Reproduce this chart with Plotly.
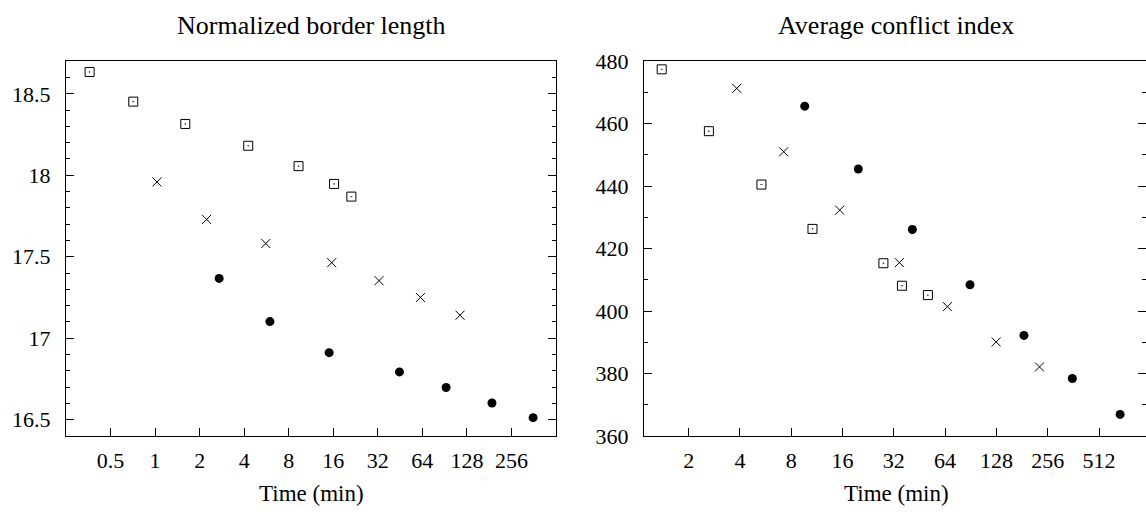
import math
import plotly.graph_objects as go

W, H = 1146, 521
FONT = "Liberation Serif"

# ---------------- Data ----------------
# Left panel: Normalized border length
nb_sq_x = [0.361, 0.712, 1.60, 4.26, 9.32, 16.2, 21.2]
nb_sq_y = [18.634, 18.452, 18.315, 18.181, 18.056, 17.947, 17.869]
nb_x_x = [1.03, 2.23, 5.60, 15.6, 32.6, 62.1, 115]
nb_x_y = [17.959, 17.729, 17.581, 17.463, 17.353, 17.250, 17.141]
nb_ci_x = [2.71, 5.97, 15.0, 44.8, 92.6, 189, 358.6]
nb_ci_y = [17.367, 17.102, 16.911, 16.793, 16.697, 16.602, 16.512]

# Right panel: Average conflict index
ac_sq_x = [1.39, 2.63, 5.35, 10.66, 27.8, 35.7, 50.7]
ac_sq_y = [477.4, 457.6, 440.5, 426.3, 415.3, 408.1, 405.1]
ac_x_x = [3.83, 7.22, 15.4, 34.5, 66.0, 127.6, 229]
ac_x_y = [471.3, 451.0, 432.3, 415.5, 401.4, 390.1, 382.1]
ac_ci_x = [9.6, 19.8, 41.1, 89.6, 185.7, 357, 680.6]
ac_ci_y = [465.6, 445.5, 426.1, 408.4, 392.2, 378.4, 366.9]

left_xticks = [0.5, 1, 2, 4, 8, 16, 32, 64, 128, 256]
left_xticktext = ["0.5", "1", "2", "4", "8", "16", "32", "64", "128", "256"]
right_xticks = [2, 4, 8, 16, 32, 64, 128, 256, 512]
right_xticktext = ["2", "4", "8", "16", "32", "64", "128", "256", "512"]

titles = ["Normalized border length", "Average conflict index"]
xlabel = "Time (min)"

# ---------------- Figure ----------------
fig = go.Figure()

sq = dict(symbol="square-open-dot", size=9, color="black", line=dict(width=1, color="black"))
xx = dict(symbol="x-thin-open", size=9, color="black", line=dict(width=1, color="black"))
ci = dict(symbol="circle", size=9, color="black", line=dict(width=0))

for (x, y, m) in [(nb_sq_x, nb_sq_y, sq), (nb_x_x, nb_x_y, xx), (nb_ci_x, nb_ci_y, ci)]:
    fig.add_trace(go.Scatter(x=x, y=y, mode="markers", marker=m, xaxis="x", yaxis="y",
                             showlegend=False, cliponaxis=False))
for (x, y, m) in [(ac_sq_x, ac_sq_y, sq), (ac_x_x, ac_x_y, xx), (ac_ci_x, ac_ci_y, ci)]:
    fig.add_trace(go.Scatter(x=x, y=y, mode="markers", marker=m, xaxis="x2", yaxis="y2",
                             showlegend=False, cliponaxis=False))
# invisible helper trace so the right-hand tick axis of the second panel is drawn
fig.add_trace(go.Scatter(x=ac_ci_x[:1], y=ac_ci_y[:1], mode="markers",
                         marker=dict(opacity=0), xaxis="x2", yaxis="y3",
                         showlegend=False, hoverinfo="skip"))

tickfont = dict(family=FONT, size=22, color="black")
ydom = [1 - 445.3 / H, 1 - 51.7 / H]
LW = 1.2

common_x = dict(type="log", ticks="inside", ticklen=8, tickwidth=1, tickcolor="black",
                showline=True, mirror=True, linecolor="black", linewidth=LW,
                showgrid=False, zeroline=False, tickfont=tickfont, ticklabelstandoff=5)
common_y = dict(ticks="inside", ticklen=8, tickwidth=1, tickcolor="black",
                showline=True, linecolor="black", linewidth=LW,
                showgrid=False, zeroline=False, tickfont=tickfont, ticklabelstandoff=10)

fig.update_layout(
    width=W, height=H, autosize=False,
    margin=dict(l=0, r=0, t=0, b=0),
    paper_bgcolor="white", plot_bgcolor="white",
    xaxis=dict(common_x, domain=[66 / W, 556 / W],
               range=[math.log10(0.25), math.log10(512)],
               tickvals=left_xticks, ticktext=left_xticktext, anchor="y"),
    yaxis=dict(common_y, domain=ydom, range=[16.4, 18.7], tick0=16.5, dtick=0.5,
               mirror="ticks",
               minor=dict(ticks="inside", ticklen=4, tickcolor="black", tickwidth=1,
                          tick0=16.5, dtick=0.1, showgrid=False),
               anchor="x"),
    xaxis2=dict(common_x, domain=[644 / W, 1.0],
                range=[0.13 * math.log10(2), 9.916 * math.log10(2)],
                tickvals=right_xticks, ticktext=right_xticktext, anchor="y2"),
    yaxis2=dict(common_y, domain=ydom, range=[360, 480], tick0=360, dtick=20,
                mirror=False,
                minor=dict(ticks="inside", ticklen=4, tickcolor="black", tickwidth=1,
                           tick0=360, dtick=10, showgrid=False),
                anchor="x2"),
    yaxis3=dict(overlaying="y2", side="right", anchor="x2", range=[360, 480],
                tick0=360, dtick=20, ticks="inside", ticklen=8, tickwidth=1,
                tickcolor="black", showline=False, showgrid=False, zeroline=False,
                showticklabels=False,
                minor=dict(ticks="inside", ticklen=4, tickcolor="black", tickwidth=1,
                           tick0=360, dtick=10, showgrid=False)),
)

ann = []
centers = [(66 + 556) / 2 / W, (644 + 1148) / 2 / W]
for cx, t in zip(centers, titles):
    ann.append(dict(text=t, x=cx, y=1 - 14 / H, xref="paper", yref="paper",
                    xanchor="center", yanchor="middle", showarrow=False,
                    font=dict(family=FONT, size=26, color="black")))
    ann.append(dict(text=xlabel, x=cx, y=1 - 506 / H, xref="paper", yref="paper",
                    xanchor="center", yanchor="middle", showarrow=False,
                    font=dict(family=FONT, size=23, color="black")))
fig.update_layout(annotations=ann)

fig.write_html("out.html")
